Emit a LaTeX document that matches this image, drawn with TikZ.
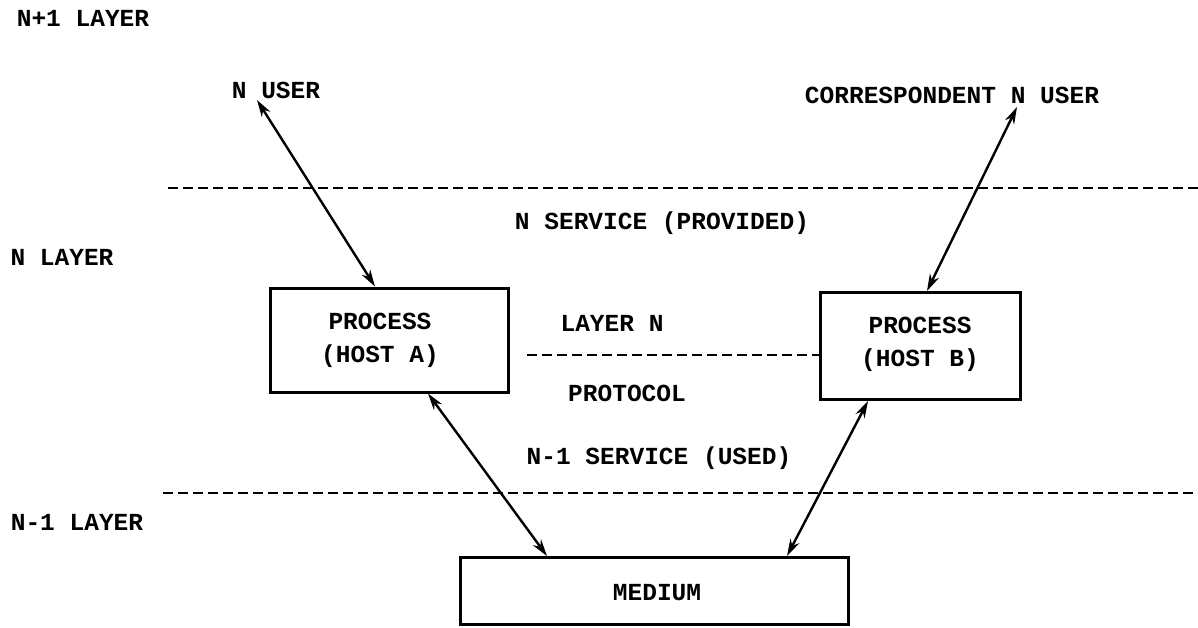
\documentclass[tikz,border=0pt]{standalone}
\usepackage{fontspec}
\setmainfont{Liberation Mono}
\usetikzlibrary{arrows.meta}
\begin{document}
\begin{tikzpicture}[x=1pt,y=-1pt,
  lbl/.style={font=\bfseries\fontsize{24.5}{30}\selectfont, inner sep=0pt, align=center},
  procbox/.style={draw, line width=3pt, inner sep=0pt},
  boundary/.style={line width=2.6pt, dash pattern=on 10pt off 5pt},
  link/.style={line width=2.4pt, {Stealth[length=17pt,width=10pt]}-{Stealth[length=17pt,width=10pt]}}]
\useasboundingbox (0,0) rectangle (1198,627);

% layer names
\node[lbl] (lnp) at (83,18) {N+1 LAYER};
\node[lbl] (ln) at (62,257) {N LAYER};
\node[lbl] (lnm) at (77,522) {N-1 LAYER};

% users
\node[lbl] (usera) at (276,90) {N USER};
\node[lbl] (userb) at (952,95) {CORRESPONDENT N USER};

% boxes
\node[procbox, minimum width=238pt, minimum height=104pt] (hosta) at (389,340) {};
\node[lbl] (hostatxt) at (380,340) {PROCESS\\[3pt](HOST A)};
\node[procbox, minimum width=200pt, minimum height=107pt] (hostb) at (920,346) {};
\node[lbl] (hostbtxt) at (920,344) {PROCESS\\[3pt](HOST B)};
\node[procbox, minimum width=388pt, minimum height=67pt] (medium) at (654,591) {};
\node[lbl] (mediumtxt) at (657,593) {MEDIUM};

% service and protocol labels
\node[lbl] (nserv) at (662,223) {N SERVICE (PROVIDED)};
\node[lbl] (layn) at (612,323) {LAYER N};
\node[lbl] (proto) at (627,393) {PROTOCOL};
\node[lbl] (nmserv) at (659,458) {N-1 SERVICE (USED)};

% layer boundaries
\coordinate (t1) at (168,188);
\coordinate (t2) at (1198,188);
\coordinate (b1) at (163,493);
\coordinate (b2) at (1198,493);
\draw[boundary] (t1) -- (t2);
\draw[boundary] (b1) -- (b2);

% peer protocol
\coordinate (p1) at (527,355);
\draw[boundary] (p1) -- (p1 -| hostb.west);

% service access links
\coordinate (ua) at (257,100);
\coordinate (ub) at (1017,107);
\draw[link] (ua) -- (hosta.north -| 375,0);
\draw[link] (ub) -- (hostb.north -| 927,0);
\draw[link] (hosta.south -| 428,0) -- (medium.north -| 547,0);
\draw[link] (hostb.south -| 868,0) -- (medium.north -| 787,0);
\end{tikzpicture}
\end{document}
